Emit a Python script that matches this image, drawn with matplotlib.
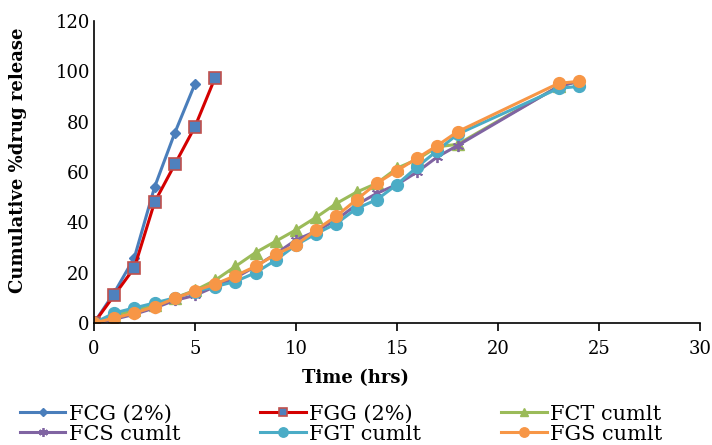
import matplotlib
matplotlib.use("Agg")
import matplotlib.pyplot as plt

# Time points (hrs)
t_fast = [0, 1, 2, 3, 4, 5, 6]
t_slow = [0, 1, 2, 3, 4, 5, 6, 7, 8, 9, 10, 11, 12, 13, 14, 15, 16, 17, 18, 23, 24]

# Cumulative % drug release for each formulation
fcg = [0, 12, 26, 54, 75.5, 95]
fgg = [0, 11, 22, 48, 63, 78, 97.5]
fct = [0, 3, 5, 7, 10, 13, 17, 22.5, 28, 32.5, 37, 42, 47.5, 52, 55.5, 61.5, 65, 70, 71, 94, 96]
fcs = [0, 1.5, 3.5, 6, 9, 11, 14.5, 18, 22.5, 27.5, 33, 36.5, 41, 47, 51.5, 55, 60, 66, 70.5, 94, 96]
fgt = [0, 4, 6, 8, 10, 12.5, 14.5, 16.5, 20, 25, 31, 35.5, 39.5, 45.5, 49, 55, 62, 68.5, 75, 93.2, 94]
fgs = [0, 2, 4, 6.5, 9.8, 12.8, 15.5, 18.8, 22.5, 27.3, 31, 37, 42.5, 49, 55.5, 60.5, 65.5, 70.5, 76, 95.2, 96]

plt.rcParams['font.family'] = ['DejaVu Serif']

fig = plt.figure(figsize=(7.12, 4.45), dpi=100)
ax = fig.add_axes([0.132, 0.274, 0.851, 0.679])

lw = 2.2
h_fcg, = ax.plot(t_fast[:6], fcg, color='#4A7EBB', lw=lw, marker='D', ms=5.5,
                 mfc='#4A7EBB', mec='#4A7EBB', label='FCG (2%)')
h_fgg, = ax.plot(t_fast, fgg, color='#D40000', lw=lw, marker='s', ms=8,
                 mfc='#4F81BD', mec='#C0504D', mew=1.2, label='FGG (2%)')
h_fct, = ax.plot(t_slow, fct, color='#9BBB59', lw=lw, marker='^', ms=8,
                 mfc='#9BBB59', mec='#9BBB59', label='FCT cumlt')
h_fcs, = ax.plot(t_slow, fcs, color='#8064A2', lw=lw, marker=(6, 2, 0), ms=8,
                 mec='#8064A2', mew=1.3, label='FCS cumlt')
h_fgt, = ax.plot(t_slow, fgt, color='#4BACC6', lw=lw, marker='o', ms=8.5,
                 mfc='#4BACC6', mec='#4BACC6', label='FGT cumlt')
h_fgs, = ax.plot(t_slow, fgs, color='#F79646', lw=lw, marker='o', ms=8.5,
                 mfc='#F79646', mec='#F79646', label='FGS cumlt')

ax.set_xlim(0, 30)
ax.set_ylim(0, 120)
ax.set_xticks(range(0, 31, 5))
ax.set_yticks(range(0, 121, 20))
ax.spines['top'].set_visible(False)
ax.spines['right'].set_visible(False)
for s in ('left', 'bottom'):
    ax.spines[s].set_linewidth(1.2)
    ax.spines[s].set_color('black')
ax.tick_params(axis='x', direction='out', length=6, width=1.2, labelsize=13, pad=6)
ax.tick_params(axis='y', length=0, labelsize=13, pad=3)

ax.set_xlabel('Time (hrs)', fontsize=13, fontweight='bold')
ax.set_ylabel('Cumulative %drug release', fontsize=13, fontweight='bold')
ax.xaxis.set_label_coords(0.431, -0.152)
ax.yaxis.set_label_coords(-0.111, 0.54)

# legend is filled column by column, so order it to read row-wise
handles = [h_fcg, h_fcs, h_fgg, h_fgt, h_fct, h_fgs]
fig.legend(handles, [h.get_label() for h in handles], loc='lower left',
           bbox_to_anchor=(0.01, -0.025), ncol=3, frameon=False, fontsize=15,
           handlelength=2.2, handletextpad=0.15, columnspacing=3.85,
           labelspacing=0.05, borderaxespad=0.2, markerscale=0.8)

fig.savefig('out.png', dpi=100)
